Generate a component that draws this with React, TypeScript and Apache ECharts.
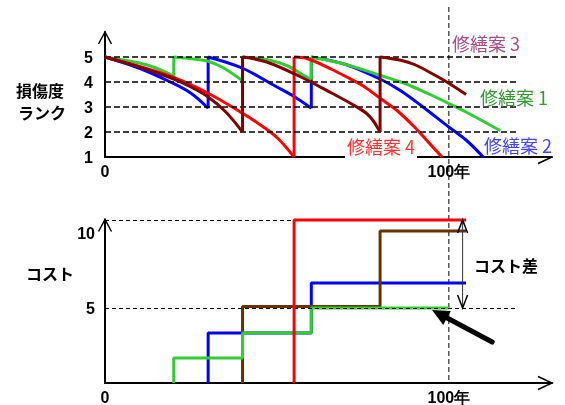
import React, { useEffect, useRef } from "react";
import * as echarts from "echarts";

// ---- axis data ----
const YEAR_MAX = 130;
const xTickLabels: Record<number, string> = { 0: "0", 100: "100年" };
const rankTicks = [1, 2, 3, 4, 5];
const rankGuides = [5, 4, 3, 2];
const costTicks = [5, 10];

// ---- 修繕案1 (green) : rank curves, segments between repairs ----
const plan1Seg1 = [[0, 5], [10, 4.76], [15, 4.55], [20, 4.23]];
const plan1Seg2 = [[20, 5], [27, 4.9], [30, 4.83], [34, 4.6], [40, 4.05]];
const plan1Seg3 = [[40, 5], [47, 4.9], [53, 4.65], [58, 4.25], [60, 4.1]];
const plan1Seg4 = [[60, 5], [70, 4.7], [80, 4.27], [86, 4.0], [90, 3.78], [95, 3.47], [100, 3.14], [105, 2.8], [110, 2.43], [115, 2.05]];

// ---- 修繕案2 (blue) ----
const plan2Seg1 = [[0, 5], [10, 4.55], [19, 4.0], [25, 3.55], [30, 2.95]];
const plan2Seg2 = [[30, 5], [40, 4.55], [50, 3.8], [55, 3.42], [60, 2.95]];
const plan2Seg3 = [[60, 5], [70, 4.7], [80, 4.12], [86, 3.65], [92, 3.05], [100, 2.2], [105, 1.68], [110, 1.0]];

// ---- 修繕案3 (maroon) ----
const plan3Seg1 = [[0, 5], [10, 4.6], [20, 4.12], [25, 3.8], [30, 3.4], [35, 2.82], [40, 2.0]];
const plan3Seg2 = [[40, 5], [47, 4.8], [57, 4.2], [66, 3.55], [72, 3.1], [76, 2.75], [78, 2.45], [80, 2.0]];
const plan3Seg3 = [[80, 5], [86, 4.87], [90, 4.7], [96, 4.27], [100, 3.95], [105, 3.5]];

// ---- 修繕案4 (red) ----
const plan4Seg1 = [[0, 5], [10, 4.62], [20, 4.18], [30, 3.55], [40, 2.75], [45, 2.3], [50, 1.78], [55, 1.0]];
const plan4Seg2 = [[55, 5], [59, 4.93], [66, 4.5], [70, 4.22], [75, 3.85], [80, 3.35], [85, 2.85], [90, 2.2], [94, 1.6], [98, 1.0]];

// ---- cumulative cost (bottom panel) ----
const plan1RepairYears = [20, 40, 60];
const plan1Costs = [1.67, 3.33, 5.0];
const plan1EndYear = 100;
const plan2RepairYears = [30, 60];
const plan2Costs = [3.33, 6.67];
const plan2EndYear = 105;
const plan3RepairYears = [40, 80];
const plan3Costs = [5.1, 10.13];
const plan3EndYear = 105;
const plan4RepairYears = [55];
const plan4Costs = [10.87];
const plan4EndYear = 105;

const CJK = "'Noto Sans CJK JP', 'Noto Sans', sans-serif";
const LAT = "'Liberation Sans', Arial, sans-serif";

function rankSeries(segs: number[][][], color: string, z: number) {
  const out: any[] = [];
  segs.forEach((seg, i) => {
    out.push({
      type: "line", xAxisIndex: 0, yAxisIndex: 0, data: seg, smooth: 0.35,
      showSymbol: false, symbol: "none", silent: true, z,
      lineStyle: { color, width: 3 },
    });
    if (i > 0) {
      const prev = segs[i - 1];
      out.push({
        type: "line", xAxisIndex: 0, yAxisIndex: 0,
        data: [prev[prev.length - 1], seg[0]], showSymbol: false, symbol: "none", silent: true, z,
        lineStyle: { color, width: 3 },
      });
    }
  });
  return out;
}

function costSeries(years: number[], costs: number[], endYear: number, color: string, z: number) {
  const pts: number[][] = [[years[0], 0]];
  years.forEach((y, i) => {
    if (i > 0) pts.push([y, costs[i - 1]]);
    pts.push([y, costs[i]]);
  });
  pts.push([endYear, costs[costs.length - 1]]);
  return {
    type: "line", xAxisIndex: 1, yAxisIndex: 1, data: pts, showSymbol: false, symbol: "none",
    silent: true, z, lineStyle: { color, width: 3 },
  };
}

export default function App() {
  const ref = useRef<HTMLDivElement>(null);
  useEffect(() => {
    if (!ref.current) return;
    const chart = echarts.init(ref.current, null, { renderer: "svg" });
    const xAxisBase = (gridIndex: number, bg: boolean) => ({
      gridIndex, type: "value", min: 0, max: YEAR_MAX, interval: 100,
      axisLine: { lineStyle: { color: "#000", width: 2 } },
      axisTick: { show: false }, splitLine: { show: false },
      axisLabel: {
        formatter: (v: number) => xTickLabels[v] ?? "",
        fontSize: 16, fontWeight: "bold", color: "#000", fontFamily: LAT, margin: 5,
        backgroundColor: bg ? "#fff" : "transparent", padding: [1, 1, 1, 1],
      },
    });
    const option: any = {
      animation: false,
      grid: [
        { left: 105, width: 447, top: 32, height: 125, outerBoundsMode: "none" },
        { left: 105, width: 447, top: 219.5, height: 163.5, outerBoundsMode: "none" },
      ],
      xAxis: [xAxisBase(0, true), xAxisBase(1, false)],
      yAxis: [
        {
          gridIndex: 0, type: "value", min: 1, max: 6, interval: 1,
          axisLine: { show: true, lineStyle: { color: "#000", width: 2 } },
          axisTick: { show: false }, splitLine: { show: false },
          axisLabel: {
            formatter: (v: number) => (rankTicks.includes(v) ? String(v) : ""),
            fontSize: 16, fontWeight: "bold", color: "#000", fontFamily: LAT, margin: 12,
          },
        },
        {
          gridIndex: 1, type: "value", min: 0, max: 10.9, interval: 5,
          axisLine: { show: true, lineStyle: { color: "#000", width: 2 } },
          axisTick: { show: false }, splitLine: { show: false },
          axisLabel: {
            formatter: (v: number) => (costTicks.includes(v) ? String(v) : ""),
            fontSize: 16, fontWeight: "bold", color: "#000", fontFamily: LAT, margin: 10,
          },
        },
      ],
      series: [
        {
          type: "line", xAxisIndex: 0, yAxisIndex: 0, data: [[0, 1]], showSymbol: false,
          symbol: "none", lineStyle: { opacity: 0 }, silent: true, z: 1,
          markLine: {
            silent: true, symbol: ["none", "none"], label: { show: false },
            lineStyle: { color: "#000", type: [6, 3], width: 1.5 },
            data: rankGuides.map((r) => [{ coord: [0, r] }, { coord: [120, r] }]),
          },
        },
        {
          type: "line", xAxisIndex: 1, yAxisIndex: 1, data: [[0, 0]], showSymbol: false,
          symbol: "none", lineStyle: { opacity: 0 }, silent: true, z: 1,
          markLine: {
            silent: true, symbol: ["none", "none"], label: { show: false },
            lineStyle: { color: "#000", type: [4, 3], width: 1 },
            data: [
              [{ coord: [0, plan4Costs[0]] }, { coord: [104, plan4Costs[0]] }],
              [{ coord: [0, 5] }, { coord: [120, 5] }],
            ],
          },
        },
        ...rankSeries([plan2Seg1, plan2Seg2, plan2Seg3], "#0000ff", 2),
        ...rankSeries([plan1Seg1, plan1Seg2, plan1Seg3, plan1Seg4], "#33cc33", 3),
        ...rankSeries([plan4Seg1, plan4Seg2], "#ff0000", 4),
        ...rankSeries([plan3Seg1, plan3Seg2, plan3Seg3], "#800000", 5),
        costSeries(plan2RepairYears, plan2Costs, plan2EndYear, "#0000ff", 2),
        costSeries(plan3RepairYears, plan3Costs, plan3EndYear, "#663300", 3),
        costSeries(plan1RepairYears, plan1Costs, plan1EndYear, "#33cc33", 4),
        costSeries(plan4RepairYears, plan4Costs, plan4EndYear, "#ff0000", 5),
      ],
    };
    chart.setOption(option);

    const p0 = (v: number[]) => chart.convertToPixel({ gridIndex: 0 }, v) as number[];
    const p1 = (v: number[]) => chart.convertToPixel({ gridIndex: 1 }, v) as number[];
    const blk = { stroke: "#000", lineWidth: 1.5, fill: null };
    const chevUp = (t: number[], w: number, h: number) => ({
      type: "polyline", z: 50, shape: { points: [[t[0] - w, t[1] + h], t, [t[0] + w, t[1] + h]] }, style: blk,
    });
    const chevDown = (t: number[], w: number, h: number) => ({
      type: "polyline", z: 50, shape: { points: [[t[0] - w, t[1] - h], t, [t[0] + w, t[1] - h]] }, style: blk,
    });
    const topY = p0([0, 6]);
    const botY = p1([0, 10.9]);
    const topX = p0([YEAR_MAX, 1]);
    const botX = p1([YEAR_MAX, 0]);
    const vTop = p0([100, 7]);
    const vBot = p1([100, 0]);
    const dTop = p1([104, plan4Costs[0]]);
    const dBot = p1([104, 5]);
    const aTip = p1([95.1, 4.87]);
    const aTail = p1([112.6, 2.73]);
    const dx = aTip[0] - aTail[0], dy = aTip[1] - aTail[1];
    const len = Math.hypot(dx, dy);
    const ux = dx / len, uy = dy / len;
    const hb = [aTip[0] - ux * 17, aTip[1] - uy * 17];
    const txt = (x: number, y: number, text: string, color: string, size: number, opts: any = {}) => ({
      type: "text", x, y, z: 60,
      style: { text, fill: color, font: `${opts.bold ? "bold " : ""}${size}px ${CJK}`, align: opts.align || "left", verticalAlign: "middle", ...(opts.style || {}) },
    });
    chart.setOption({
      graphic: [
        { type: "line", z: 1, shape: { x1: vTop[0], y1: vTop[1], x2: vBot[0], y2: vBot[1] }, style: { stroke: "#000", lineWidth: 1, lineDash: [5, 3] } },
        chevUp(topY, 6.5, 12),
        chevUp(botY, 6.5, 12),
        { type: "polyline", z: 50, shape: { points: [[botX[0] - 14, botX[1] - 6.5], botX, [botX[0] - 14, botX[1] + 6.5]] }, style: blk },
        { type: "line", z: 50, shape: { x1: topX[0] - 14, y1: topX[1] + 6.5, x2: topX[0], y2: topX[1] }, style: blk },
        { type: "line", z: 50, shape: { x1: dTop[0], y1: dTop[1], x2: dBot[0], y2: dBot[1] }, style: { stroke: "#333", lineWidth: 1 } },
        chevUp(dTop, 5, 13),
        chevDown(dBot, 5, 13),
        { type: "line", z: 50, shape: { x1: aTail[0], y1: aTail[1], x2: hb[0] + ux * 3, y2: hb[1] + uy * 3 }, style: { stroke: "#000", lineWidth: 5, lineCap: "round" } },
        { type: "polygon", z: 50, shape: { points: [aTip, [hb[0] - uy * 8, hb[1] + ux * 8], [hb[0] + uy * 8, hb[1] - ux * 8]] }, style: { fill: "#000" } },
        txt(40, 90, "損傷度", "#000", 16, { bold: true, align: "center" }),
        txt(42, 112, "ランク", "#000", 16, { bold: true, align: "center" }),
        txt(50, 273, "コスト", "#000", 16, { bold: true, align: "center" }),
        txt(506, 265, "コスト差", "#000", 16, { bold: true, align: "center" }),
        txt(452, 43, "修繕案 3", "#a64d86", 18),
        txt(480, 97, "修繕案 1", "#339933", 18),
        txt(345, 146, "修繕案 4", "#ff3333", 18, { style: { backgroundColor: "#fff", padding: [1, 2, 5, 2] } }),
        txt(484, 145, "修繕案 2", "#4444ff", 18),
      ],
    });
    return () => chart.dispose();
  }, []);
  return <div ref={ref} style={{ position: "fixed", left: 0, top: 0, width: 565, height: 405 }} />;
}
